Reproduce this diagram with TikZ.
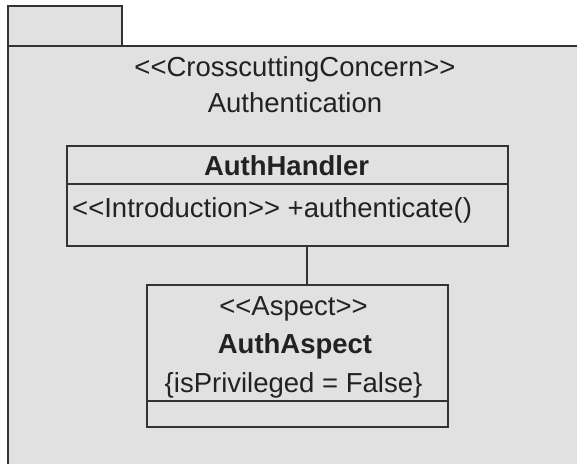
\documentclass[tikz,border=0pt]{standalone}
\usepackage{fontspec}
\setmainfont{Liberation Sans}
\definecolor{pkgfill}{HTML}{E1E1E1}
\definecolor{linec}{HTML}{333333}
\definecolor{textc}{HTML}{222222}
\tikzset{
  umlline/.style={draw=linec, line width=1.6pt},
  boxstyle/.style={umlline, fill=pkgfill, rectangle, inner sep=0pt},
  lbl/.style={inner sep=0pt, text=textc, font=\fontsize{27.5}{32}\selectfont, anchor=base},
  lblb/.style={lbl, font=\fontsize{27.5}{32}\selectfont\bfseries},
}
\begin{document}
\begin{tikzpicture}[x=1pt, y=-1pt]
\clip (0,0) rectangle (577,463);
\fill[white] (0,0) rectangle (577,463);
% package
\node[boxstyle, anchor=north west, minimum width=114pt, minimum height=40pt] (tab) at (7,5) {};
\node[boxstyle, anchor=north west, minimum width=580pt, minimum height=440pt] (pkg) at (7,45) {};
\node[lbl] (stereo) at (295,76) {<{}<CrosscuttingConcern>{}>};
\node[lbl] (pkgname) at (295,112) {Authentication};
% AuthHandler class
\node[boxstyle, minimum width=441pt, minimum height=100pt] (handler) at (287.5,196) {};
\draw[umlline] (handler.west |- 0,184) -- (handler.east |- 0,184);
\node[lblb] (hname) at (286.5,175) {AuthHandler};
\node[lbl, anchor=base west] (hop) at (72,217) {<{}<Introduction>{}> +authenticate()};
% AuthAspect class
\node[boxstyle, minimum width=301pt, minimum height=142pt] (aspect) at (297.5,356) {};
\draw[umlline] (aspect.west |- 0,401) -- (aspect.east |- 0,401);
\node[lbl] (astereo) at (293.5,315) {<{}<Aspect>{}>};
\node[lblb] (aname) at (295,353) {AuthAspect};
\node[lbl] (aprop) at (293.5,392) {\{isPrivileged = False\}};
% connector
\coordinate (cx) at (307,0);
\draw[umlline] (handler.south -| cx) -- (aspect.north -| cx);
\end{tikzpicture}
\end{document}
